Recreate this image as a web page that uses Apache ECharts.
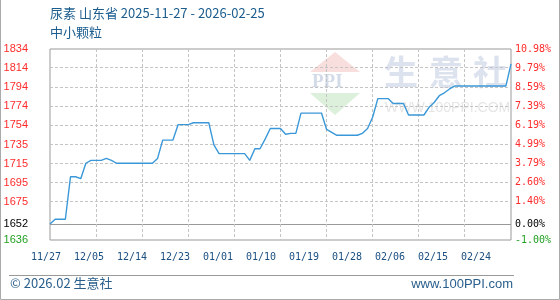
<!DOCTYPE html>
<html><head><meta charset="utf-8">
<script src="https://cdn.jsdelivr.net/npm/echarts@6/dist/echarts.min.js"></script>
<style>html,body{margin:0;padding:0;background:#fff}#c{width:560px;height:300px}</style>
</head><body><div id="c"></div>
<script>
// ---------- data ----------
const startDate = [2025, 11, 27];
const prices = [
  1652,1657,1657,1657,1701,1701,1699,1715,1718,1718,1718,1720,1718,1715,
  1715,1715,1715,1715,1715,1715,1715,
  1720,1739,1739,1739,1755,1755,1755,1757,1757,1757,1757,
  1734,1725,1725,1725,1725,1725,1725,
  1718,1730,1730,1740,1751,1751,1751,1745,1746,1746,
  1767,1767,1767,1767,1767,
  1750,1747,1744,1744,1744,1744,1744,1746,1751,1763,
  1782,1782,1782,1777,1777,1777,1765,1765,1765,1765,
  1773,1778,1785,1788,1792,1795,
  1795,1795,1795,1795,1795,1795,1795,1795,1795,1795,
  1818
];
const xTickLabels = ['11/27','12/05','12/14','12/23','01/01','01/10','01/19','01/28','02/06','02/15','02/24'];
const xGridEvery = 9;
const basePrice = 1652;
const pctTicks = [-1.00, 0.00, 1.40, 2.60, 3.79, 4.99, 6.19, 7.39, 8.59, 9.79, 10.98];
const leftTickLabels = ['1636','1652','1675','1695','1715','1735','1754','1774','1794','1814','1834'];
const rightTickLabels = ['-1.00%','0.00%','1.40%','2.60%','3.79%','4.99%','6.19%','7.39%','8.59%','9.79%','10.98%'];
const titleText = '尿素 山东省 2025-11-27 - 2026-02-25';
const subTitleText = '中小颗粒';

// ---------- derived ----------
const dates = [];
{
  const d = new Date(Date.UTC(startDate[0], startDate[1]-1, startDate[2]));
  for (let i = 0; i < prices.length; i++) {
    const m = String(d.getUTCMonth()+1).padStart(2,'0');
    const dd = String(d.getUTCDate()).padStart(2,'0');
    dates.push(m + '/' + dd);
    d.setUTCDate(d.getUTCDate()+1);
  }
}
const tickValues = pctTicks.map(p => basePrice * (1 + p/100));
const yMin = tickValues[0] - 0.02, yMax = tickValues[tickValues.length-1] + 0.02;
const RED = '#ff2b2b', GREEN = '#22a022', BLK = '#000';
function colorOf(i){ return i===0 ? GREEN : (i===1 ? BLK : RED); }
const lastIdx = tickValues.length-1;
const lastX = dates.length-1;

const labelData = [];
tickValues.forEach((v,i)=>{
  labelData.push({yAxis:v,
    label:{show:true, position:'start', distance:22, formatter:leftTickLabels[i], color:colorOf(i),
           fontFamily:'Liberation Sans, Arial, sans-serif', fontSize:11}});
  labelData.push({yAxis:v,
    label:{show:true, position:'end', distance:4, formatter:rightTickLabels[i], color:colorOf(i),
           fontFamily:'DejaVu Sans Mono, monospace', fontSize:10}});
});

// gridline items: [xIndex, yValue, kind]  kind 0 = horizontal dashed, 1 = vertical dashed, 2 = base solid
const gridItems = [];
tickValues.forEach((v,i)=>{ if (i>0 && i<lastIdx) gridItems.push([0, v, i===1 ? 2 : 0]); });
dates.forEach((d,i)=>{ if (i>0 && i<lastX && i%xGridEvery===0) gridItems.push([i, yMin, 1]); });

function renderGrid(params, api){
  const kind = api.value(2);
  const kids = [];
  if (kind === 1) {
    const a = api.coord([api.value(0), yMax]), b = api.coord([api.value(0), yMin]);
    const x = Math.floor(a[0]);
    for (let y = a[1]; y < b[1]; y += 5)
      kids.push({type:'rect', shape:{x:x, y:y, width:1, height:Math.min(3, b[1]-y)}, style:{fill:'#c4c4c4'}});
  } else {
    const a = api.coord([0, api.value(1)]), b = api.coord([lastX, api.value(1)]);
    const y = Math.floor(a[1]);
    if (kind === 2) {
      kids.push({type:'rect', shape:{x:a[0], y:y, width:b[0]-a[0], height:1}, style:{fill:'#999'}});
    } else {
      for (let x = a[0]; x < b[0]; x += 5)
        kids.push({type:'rect', shape:{x:x, y:y, width:Math.min(3, b[0]-x), height:1}, style:{fill:'#c4c4c4'}});
    }
  }
  return {type:'group', children:kids};
}

const chart = echarts.init(document.getElementById('c'), null, {renderer:'canvas'});
chart.setOption({
  animation: false,
  backgroundColor: '#fff',
  grid: [
    {left:50, top:49, width:461, height:191, show:true, borderColor:'#999', borderWidth:1},
    {left:46, top:49, width:430, height:191, show:false}
  ],
  xAxis: [
    {type:'category', gridIndex:0, data:dates, boundaryGap:false,
     axisLine:{show:false}, axisTick:{show:false}, axisLabel:{show:false}, splitLine:{show:false}},
    {type:'category', gridIndex:1, data:xTickLabels, boundaryGap:false,
     axisLine:{show:false}, axisTick:{show:false}, splitLine:{show:false},
     axisLabel:{interval:0, margin:12, color:'#1a4f80', fontFamily:'DejaVu Sans Mono, monospace', fontSize:10}}
  ],
  yAxis: [
    {type:'value', gridIndex:0, min:yMin, max:yMax,
     axisLine:{show:false}, axisTick:{show:false}, splitLine:{show:false}, axisLabel:{show:false}},
    {type:'value', gridIndex:1, show:false}
  ],
  series: [
    {type:'custom', name:'gridlines', xAxisIndex:0, yAxisIndex:0, z:1, clip:false,
     renderItem:renderGrid, data:gridItems, encode:{x:0, y:1}},
    {type:'line', name:'labels', xAxisIndex:0, yAxisIndex:0, data:prices, showSymbol:false, symbol:'none',
     lineStyle:{color:'rgba(0,0,0,0)', width:1}, z:1, silent:true,
     markLine:{silent:true, symbol:['none','none'], animation:false, precision:4,
       lineStyle:{color:'rgba(0,0,0,0)', width:0}, data:labelData}},
    {type:'line', name:'price', xAxisIndex:0, yAxisIndex:0, data:prices, showSymbol:false, symbol:'none',
     lineStyle:{color:'#3a98d8', width:1.4}, z:5}
  ],
  graphic: [
    {type:'polyline', shape:{points:[[0.5,0],[0.5,299.5],[559.5,299.5],[559.5,0]]}, style:{stroke:'#aaa', lineWidth:1, fill:null}},
    {type:'line', shape:{x1:9,y1:275.5,x2:514,y2:275.5}, style:{stroke:'#999', lineWidth:1}},
    {type:'text', left:50, top:7, style:{text:titleText, fill:'#1c5d8e', font:'13px "Noto Sans CJK SC", sans-serif'}},
    {type:'text', left:50, top:26, style:{text:subTitleText, fill:'#1c5d8e', font:'13px "Noto Sans CJK SC", sans-serif'}},
    {type:'text', left:10, top:277, style:{text:'© 2026.02 生意社', fill:'#2a5f8c', font:'13px "Noto Sans CJK SC", sans-serif'}},
    {type:'text', right:47, top:278, style:{text:'www.100PPI.com', fill:'#2a5f8c', font:'13px "Liberation Sans", Arial, sans-serif'}},
    {type:'polygon', z:0, shape:{points:[[335,52],[360,72],[310,72]]}, style:{fill:'#f9dede'}},
    {type:'text', z:0, x:312, y:73, style:{text:'PPI', fill:'#d3dae8', font:'bold 19px "Liberation Serif", serif'}},
    {type:'polygon', z:0, shape:{points:[[310,93],[360,93],[335,115]]}, style:{fill:'#dcf0dc'}},
    {type:'text', z:0, x:384, y:55, style:{text:'生', fill:'#dde3ee', font:'bold 34px "Noto Sans CJK SC", sans-serif'}},
    {type:'text', z:0, x:429, y:55, style:{text:'意', fill:'#dde3ee', font:'bold 34px "Noto Sans CJK SC", sans-serif'}},
    {type:'text', z:0, x:473, y:55, style:{text:'社', fill:'#dde3ee', font:'bold 34px "Noto Sans CJK SC", sans-serif'}},
    {type:'text', z:0, x:385, y:101, style:{text:'WWW.100PPI.COM', fill:'#e6e6e6', font:'14px "Liberation Sans", Arial, sans-serif'}}
  ]
});
</script></body></html>
